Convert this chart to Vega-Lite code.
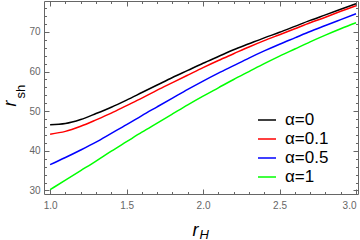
{
  "$schema": "https://vega.github.io/schema/vega-lite/v6.json",
  "width": 314,
  "height": 193,
  "autosize": {"type": "none"},
  "padding": {"left": 44, "top": 1, "right": 2, "bottom": 46},
  "background": "white",
  "config": {
    "view": {"stroke": null},
    "axis": {"grid": false, "domainColor": "#666666", "tickColor": "#666666", "labelColor": "#666666", "labelFont": "Liberation Sans", "labelFontSize": 10, "titleFont": "Liberation Sans", "titleColor": "black", "titleFontWeight": "normal", "labelOverlap": false}
  },
  "data": {"values": [
    {"alpha":"α=0","rH":1.0,"rsh":46.6},{"alpha":"α=0","rH":1.1,"rsh":46.9},{"alpha":"α=0","rH":1.2,"rsh":47.9},{"alpha":"α=0","rH":1.3,"rsh":49.4},{"alpha":"α=0","rH":1.4,"rsh":51.0},{"alpha":"α=0","rH":1.5,"rsh":52.8},{"alpha":"α=0","rH":1.6,"rsh":54.7},{"alpha":"α=0","rH":1.7,"rsh":56.6},{"alpha":"α=0","rH":1.8,"rsh":58.5},{"alpha":"α=0","rH":1.9,"rsh":60.3},{"alpha":"α=0","rH":2.0,"rsh":62.1},{"alpha":"α=0","rH":2.1,"rsh":63.8},{"alpha":"α=0","rH":2.2,"rsh":65.5},{"alpha":"α=0","rH":2.3,"rsh":67.0},{"alpha":"α=0","rH":2.4,"rsh":68.5},{"alpha":"α=0","rH":2.5,"rsh":69.9},{"alpha":"α=0","rH":2.6,"rsh":71.4},{"alpha":"α=0","rH":2.7,"rsh":72.9},{"alpha":"α=0","rH":2.8,"rsh":74.3},{"alpha":"α=0","rH":2.9,"rsh":75.7},{"alpha":"α=0","rH":3.0,"rsh":77.1},
    {"alpha":"α=0.1","rH":1.0,"rsh":44.2},{"alpha":"α=0.1","rH":1.1,"rsh":44.9},{"alpha":"α=0.1","rH":1.2,"rsh":46.2},{"alpha":"α=0.1","rH":1.3,"rsh":47.8},{"alpha":"α=0.1","rH":1.4,"rsh":49.5},{"alpha":"α=0.1","rH":1.5,"rsh":51.4},{"alpha":"α=0.1","rH":1.6,"rsh":53.3},{"alpha":"α=0.1","rH":1.7,"rsh":55.3},{"alpha":"α=0.1","rH":1.8,"rsh":57.2},{"alpha":"α=0.1","rH":1.9,"rsh":59.1},{"alpha":"α=0.1","rH":2.0,"rsh":61.0},{"alpha":"α=0.1","rH":2.1,"rsh":62.8},{"alpha":"α=0.1","rH":2.2,"rsh":64.5},{"alpha":"α=0.1","rH":2.3,"rsh":66.2},{"alpha":"α=0.1","rH":2.4,"rsh":67.8},{"alpha":"α=0.1","rH":2.5,"rsh":69.3},{"alpha":"α=0.1","rH":2.6,"rsh":70.8},{"alpha":"α=0.1","rH":2.7,"rsh":72.3},{"alpha":"α=0.1","rH":2.8,"rsh":73.7},{"alpha":"α=0.1","rH":2.9,"rsh":75.2},{"alpha":"α=0.1","rH":3.0,"rsh":76.6},
    {"alpha":"α=0.5","rH":1.0,"rsh":36.5},{"alpha":"α=0.5","rH":1.1,"rsh":38.3},{"alpha":"α=0.5","rH":1.2,"rsh":40.2},{"alpha":"α=0.5","rH":1.3,"rsh":42.2},{"alpha":"α=0.5","rH":1.4,"rsh":44.4},{"alpha":"α=0.5","rH":1.5,"rsh":46.6},{"alpha":"α=0.5","rH":1.6,"rsh":48.9},{"alpha":"α=0.5","rH":1.7,"rsh":51.1},{"alpha":"α=0.5","rH":1.8,"rsh":53.3},{"alpha":"α=0.5","rH":1.9,"rsh":55.5},{"alpha":"α=0.5","rH":2.0,"rsh":57.6},{"alpha":"α=0.5","rH":2.1,"rsh":59.6},{"alpha":"α=0.5","rH":2.2,"rsh":61.5},{"alpha":"α=0.5","rH":2.3,"rsh":63.4},{"alpha":"α=0.5","rH":2.4,"rsh":65.2},{"alpha":"α=0.5","rH":2.5,"rsh":66.9},{"alpha":"α=0.5","rH":2.6,"rsh":68.5},{"alpha":"α=0.5","rH":2.7,"rsh":70.1},{"alpha":"α=0.5","rH":2.8,"rsh":71.6},{"alpha":"α=0.5","rH":2.9,"rsh":73.1},{"alpha":"α=0.5","rH":3.0,"rsh":74.6},
    {"alpha":"α=1","rH":1.0,"rsh":30.2},{"alpha":"α=1","rH":1.1,"rsh":32.6},{"alpha":"α=1","rH":1.2,"rsh":35.0},{"alpha":"α=1","rH":1.3,"rsh":37.4},{"alpha":"α=1","rH":1.4,"rsh":39.9},{"alpha":"α=1","rH":1.5,"rsh":42.3},{"alpha":"α=1","rH":1.6,"rsh":44.7},{"alpha":"α=1","rH":1.7,"rsh":47.0},{"alpha":"α=1","rH":1.8,"rsh":49.3},{"alpha":"α=1","rH":1.9,"rsh":51.6},{"alpha":"α=1","rH":2.0,"rsh":53.8},{"alpha":"α=1","rH":2.1,"rsh":55.9},{"alpha":"α=1","rH":2.2,"rsh":58.0},{"alpha":"α=1","rH":2.3,"rsh":60.0},{"alpha":"α=1","rH":2.4,"rsh":62.0},{"alpha":"α=1","rH":2.5,"rsh":63.9},{"alpha":"α=1","rH":2.6,"rsh":65.7},{"alpha":"α=1","rH":2.7,"rsh":67.5},{"alpha":"α=1","rH":2.8,"rsh":69.2},{"alpha":"α=1","rH":2.9,"rsh":70.8},{"alpha":"α=1","rH":3.0,"rsh":72.3}
  ]},
  "layer": [
    {
      "mark": {"type": "line", "strokeWidth": 1.5, "interpolate": "monotone"},
      "encoding": {
        "x": {"field": "rH", "type": "quantitative", "scale": {"domain": [0.96, 3.013], "nice": false, "zero": false},
          "axis": {"orient": "bottom", "values": [1,1.1,1.2,1.3,1.4,1.5,1.6,1.7,1.8,1.9,2,2.1,2.2,2.3,2.4,2.5,2.6,2.7,2.8,2.9,3],
            "tickSize": {"condition": {"test": "abs(datum.value*2 - round(datum.value*2)) < 0.001", "value": -5}, "value": -2.5},
            "labelExpr": "abs(datum.value*2 - round(datum.value*2)) < 0.001 ? format(datum.value, '.1f') : ''",
            "labelPadding": 11, "labelFlush": 3, "title": "r", "titleFontStyle": "italic", "titleFontSize": 18,
            "titleX": 148, "titleY": 41, "titleAlign": "left", "titleBaseline": "alphabetic", "titleAngle": 0}},
        "y": {"field": "rsh", "type": "quantitative", "scale": {"domain": [29.1, 77.8], "nice": false, "zero": false},
          "axis": {"orient": "left", "values": [30,32,34,36,38,40,42,44,46,48,50,52,54,56,58,60,62,64,66,68,70,72,74,76],
            "tickSize": {"condition": {"test": "datum.value % 10 == 0", "value": -5}, "value": -2.5},
            "labelExpr": "datum.value % 10 == 0 ? datum.label : ''",
            "labelPadding": 9, "title": "r", "titleFontStyle": "italic", "titleFontSize": 18,
            "titleX": -29, "titleY": 105, "titleAlign": "left", "titleBaseline": "alphabetic", "titleAngle": 270}},
        "color": {"field": "alpha", "type": "nominal",
          "scale": {"domain": ["α=0", "α=0.1", "α=0.5", "α=1"], "range": ["#000000", "#ff0000", "#0000ff", "#00ff00"]},
          "legend": {"orient": "none", "legendX": 213, "legendY": 109, "title": null, "symbolType": "stroke", "symbolSize": 324, "symbolStrokeWidth": 1.5,
            "labelFont": "Liberation Sans", "labelFontSize": 17, "labelColor": "black", "labelOffset": 8, "rowPadding": 1}}
      }
    },
    {
      "mark": {"type": "line", "opacity": 0},
      "encoding": {
        "x": {"field": "rH", "type": "quantitative",
          "axis": {"orient": "top", "values": [1,1.1,1.2,1.3,1.4,1.5,1.6,1.7,1.8,1.9,2,2.1,2.2,2.3,2.4,2.5,2.6,2.7,2.8,2.9,3],
            "tickSize": {"condition": {"test": "abs(datum.value*2 - round(datum.value*2)) < 0.001", "value": -5}, "value": -2.5},
            "labels": false, "title": "H", "titleFontStyle": "italic", "titleFontSize": 13,
            "titleX": 155, "titleY": 237, "titleAlign": "left", "titleBaseline": "alphabetic", "titleAngle": 0}},
        "y": {"field": "rsh", "type": "quantitative",
          "axis": {"orient": "right", "values": [30,32,34,36,38,40,42,44,46,48,50,52,54,56,58,60,62,64,66,68,70,72,74,76],
            "tickSize": {"condition": {"test": "datum.value % 10 == 0", "value": -5}, "value": -2.5},
            "labels": false, "title": "sh", "titleFontSize": 13,
            "titleX": -334, "titleY": 97, "titleAlign": "left", "titleBaseline": "alphabetic", "titleAngle": 270}},
        "detail": {"field": "alpha"}
      }
    }
  ],
  "resolve": {"axis": {"x": "independent", "y": "independent"}}
}
